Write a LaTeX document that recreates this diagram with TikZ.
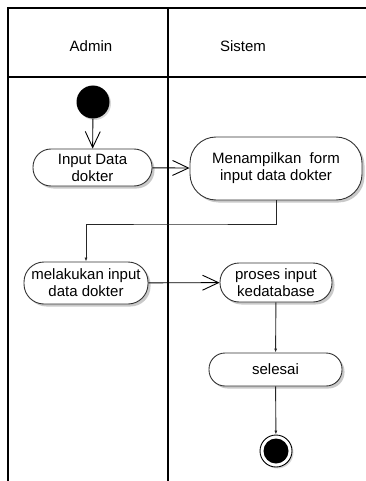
\documentclass[tikz,border=0pt]{standalone}
\usepackage{fontspec}
\setmainfont{Liberation Sans}
\usetikzlibrary{arrows.meta,shadows}
\begin{document}
\begin{tikzpicture}[x=1pt,y=-1pt,
  lane/.style={line width=1.2pt,draw=black},
  act/.style={draw=black!80,line width=0.9pt,fill=white,inner sep=0pt,align=center,
    font=\fontsize{15}{17}\selectfont,
    drop shadow={shadow xshift=2.5pt,shadow yshift=-2.5pt,fill=black!35,opacity=0.6}},
  hdr/.style={font=\fontsize{15}{17}\selectfont},
  bigarr/.style={draw=black,line width=0.9pt,-{Straight Barb[length=16pt,width=15pt,line width=0.9pt]}},
  smallarr/.style={draw=black!85,line width=0.9pt,-{Latex[length=4pt,width=3pt]}}
]
\useasboundingbox (0,0) rectangle (366,481);
\fill[white] (0,0) rectangle (366,481);
% swimlanes
\draw[lane] (366,8) -- (8,8) -- (8,481);
\draw[lane] (8,77) -- (366,77);
\draw[lane] (168,8) -- (168,481);
\node[hdr] (hadmin) at (91,46) {Admin};
\node[hdr] (hsistem) at (243,46) {Sistem};
% start
\node[circle,fill=black,inner sep=0pt,minimum size=33pt,
  drop shadow={shadow xshift=1.5pt,shadow yshift=-1.5pt,fill=black!30,opacity=0.5}] (start) at (93,102) {};
% activities
\node[act,minimum width=119pt,minimum height=37pt,rounded corners=18pt] (inp) at (92.5,167.5) {Input Data\\dokter};
\node[act,minimum width=172pt,minimum height=63pt,rounded corners=26pt] (men) at (276,168.5) {Menampilkan\ \ form\\input data dokter};
\node[act,minimum width=124pt,minimum height=42pt,rounded corners=20pt] (mel) at (86,283) {melakukan input\\data dokter};
\node[act,minimum width=112pt,minimum height=39pt,rounded corners=19pt] (pro) at (276,282.5) {proses input\\kedatabase};
\node[act,minimum width=133pt,minimum height=33pt,rounded corners=16pt] (sel) at (275.5,369.5) {selesai};
% end
\node[circle,draw=black,line width=0.9pt,fill=white,inner sep=0pt,minimum size=32pt,
  drop shadow={shadow xshift=1.5pt,shadow yshift=-1.5pt,fill=black!30,opacity=0.5}] (endo) at (276,451) {};
\node[circle,fill=black,inner sep=0pt,minimum size=25pt] (endi) at (endo) {};
% connectors
\coordinate (bend) at (180,224);
\draw[bigarr] (start) -- (inp);
\draw[bigarr] (inp) -- (men);
\draw[smallarr] (men.south) |- (bend) -| (mel.north);
\draw[bigarr] (mel) -- (pro);
\draw[smallarr] (pro) -- (sel);
\draw[smallarr] (sel) -- (endo);
\end{tikzpicture}
\end{document}
